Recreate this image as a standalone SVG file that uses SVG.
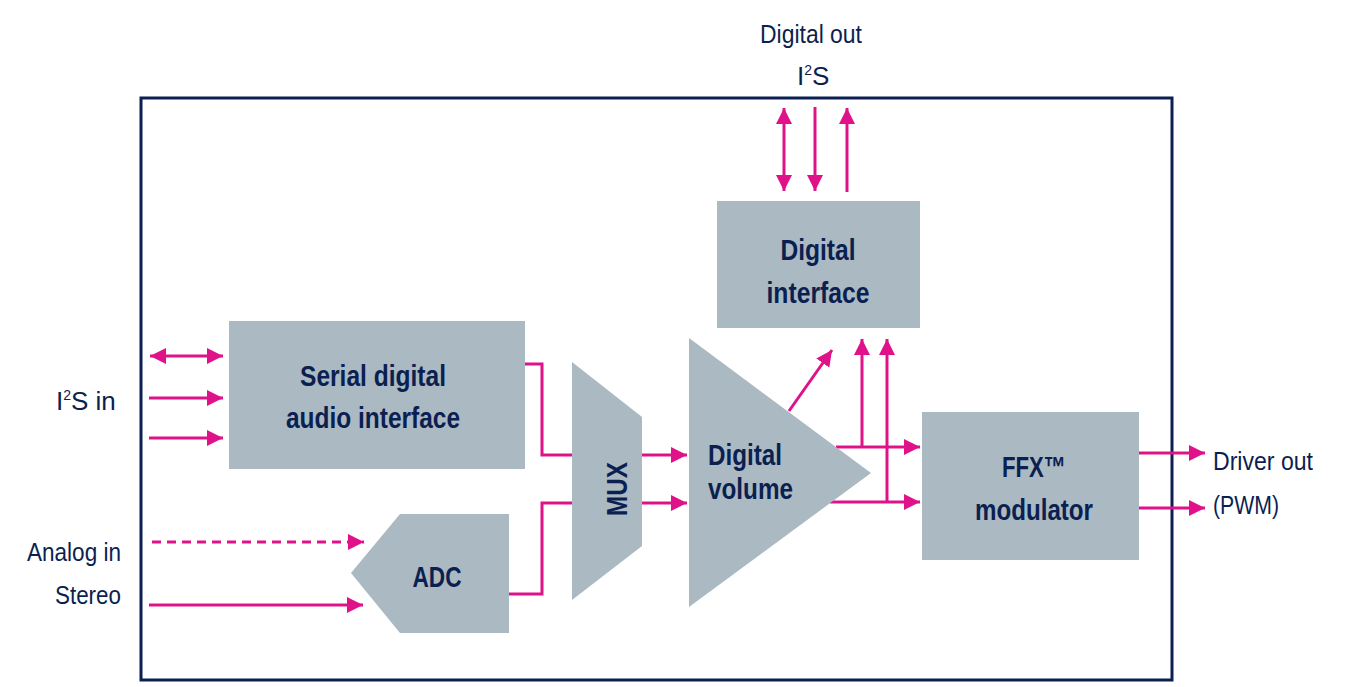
<svg xmlns="http://www.w3.org/2000/svg" width="1351" height="687" viewBox="0 0 1351 687">
<style>
.frame{fill:none;stroke:#0b1f50;stroke-width:3}
.blk{fill:#aab9c2}
.lbl{font-family:"Liberation Sans",Arial,sans-serif;font-size:26px;fill:#0b1f50}
.in{font-weight:bold;font-size:29px}
.c{fill:none;stroke:#e0128a;stroke-width:3}
.d{stroke-dasharray:9 6}
</style>
<defs>
<marker id="ah" markerUnits="userSpaceOnUse" markerWidth="17" markerHeight="16" refX="16" refY="8" orient="auto-start-reverse" viewBox="0 0 17 16">
<path d="M0,0 L16,8 L0,16 z" fill="#e0128a"/>
</marker>
</defs>
<rect class="frame" x="141" y="98" width="1031" height="582"/>

<g id="connectors">
<line class="c" x1="784" y1="108" x2="784" y2="191" marker-start="url(#ah)" marker-end="url(#ah)"/>
<line class="c" x1="815" y1="107" x2="815" y2="191" marker-end="url(#ah)"/>
<line class="c" x1="847" y1="192" x2="847" y2="108" marker-end="url(#ah)"/>
<line class="c" x1="150" y1="356" x2="223" y2="356" marker-start="url(#ah)" marker-end="url(#ah)"/>
<line class="c" x1="149" y1="398" x2="223" y2="398" marker-end="url(#ah)"/>
<line class="c" x1="149" y1="438" x2="223" y2="438" marker-end="url(#ah)"/>
<line class="c d" x1="152" y1="542" x2="364" y2="542" marker-end="url(#ah)"/>
<line class="c" x1="149" y1="605" x2="363" y2="605" marker-end="url(#ah)"/>
<polyline class="c" points="525,364 542,364 542,455 573,455"/>
<polyline class="c" points="509,594 542,594 542,503 573,503"/>
<line class="c" x1="642" y1="455" x2="687" y2="455" marker-end="url(#ah)"/>
<line class="c" x1="642" y1="503" x2="687" y2="503" marker-end="url(#ah)"/>
<line class="c" x1="789" y1="411" x2="832" y2="350" marker-end="url(#ah)"/>
<line class="c" x1="836" y1="447" x2="920" y2="447" marker-end="url(#ah)"/>
<line class="c" x1="830" y1="502" x2="920" y2="502" marker-end="url(#ah)"/>
<line class="c" x1="862" y1="447" x2="862" y2="339" marker-end="url(#ah)"/>
<line class="c" x1="887" y1="502" x2="887" y2="339" marker-end="url(#ah)"/>
<line class="c" x1="1139" y1="453" x2="1205" y2="453" marker-end="url(#ah)"/>
<line class="c" x1="1139" y1="508" x2="1205" y2="508" marker-end="url(#ah)"/>
</g>

<g id="serial">
<rect class="blk" x="229" y="321" width="296" height="148"/>
<text class="lbl in" x="373" y="386" text-anchor="middle" textLength="146" lengthAdjust="spacingAndGlyphs">Serial digital</text>
<text class="lbl in" x="373" y="428" text-anchor="middle" textLength="174" lengthAdjust="spacingAndGlyphs">audio interface</text>
</g>

<g id="adc">
<polygon class="blk" points="400,514 509,514 509,633 400,633 351,573"/>
<text class="lbl in" x="437" y="587" text-anchor="middle" textLength="49" lengthAdjust="spacingAndGlyphs">ADC</text>
</g>

<g id="mux">
<polygon class="blk" points="572,362 642,417 642,546 572,600"/>
<text class="lbl in" transform="translate(627,489) rotate(-90)" x="0" y="0" text-anchor="middle" textLength="54" lengthAdjust="spacingAndGlyphs">MUX</text>
</g>

<g id="volume">
<polygon class="blk" points="689,338 871,473 689,607"/>
<text class="lbl in" x="708" y="465" textLength="74" lengthAdjust="spacingAndGlyphs">Digital</text>
<text class="lbl in" x="708" y="499" textLength="85" lengthAdjust="spacingAndGlyphs">volume</text>
</g>

<g id="digital-interface">
<rect class="blk" x="717" y="201" width="203" height="127"/>
<text class="lbl in" x="818" y="260" text-anchor="middle" textLength="75" lengthAdjust="spacingAndGlyphs">Digital</text>
<text class="lbl in" x="818" y="303" text-anchor="middle" textLength="103" lengthAdjust="spacingAndGlyphs">interface</text>
</g>

<g id="ffx">
<rect class="blk" x="922" y="412" width="217" height="148"/>
<text class="lbl in" x="1002" y="477" textLength="64" lengthAdjust="spacingAndGlyphs">FFX™</text>
<text class="lbl in" x="1034" y="520" text-anchor="middle" textLength="118" lengthAdjust="spacingAndGlyphs">modulator</text>
</g>

<g id="labels">
<text class="lbl" x="811" y="43" text-anchor="middle" textLength="102" lengthAdjust="spacingAndGlyphs">Digital out</text>
<text class="lbl" x="797" y="85">I<tspan font-size="14" dy="-10">2</tspan><tspan dy="10">S</tspan></text>
<text class="lbl" x="56" y="410">I<tspan font-size="14" dy="-10">2</tspan><tspan dy="10">S in</tspan></text>
<text class="lbl" x="121" y="561" text-anchor="end" textLength="94" lengthAdjust="spacingAndGlyphs">Analog in</text>
<text class="lbl" x="121" y="604" text-anchor="end" textLength="66" lengthAdjust="spacingAndGlyphs">Stereo</text>
<text class="lbl" x="1213" y="470" textLength="100" lengthAdjust="spacingAndGlyphs">Driver out</text>
<text class="lbl" x="1213" y="514" textLength="66" lengthAdjust="spacingAndGlyphs">(PWM)</text>
</g>
</svg>
